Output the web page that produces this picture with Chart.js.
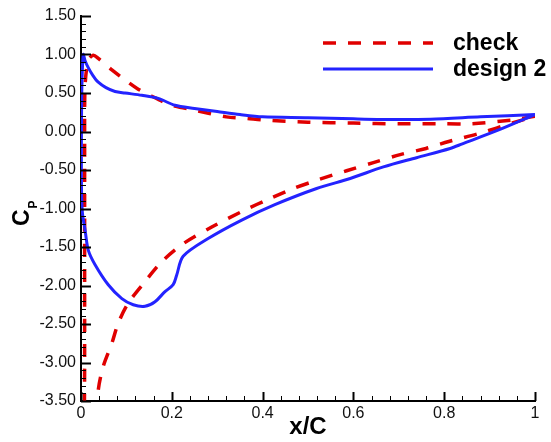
<!DOCTYPE html>
<html>
<head>
<meta charset="utf-8">
<script src="https://cdn.jsdelivr.net/npm/chart.js@4.4.0/dist/chart.umd.min.js"></script>
<style>
  html, body { margin: 0; padding: 0; background: #fff; }
  #cp-chart { display: block; }
</style>
</head>
<body>
<canvas id="cp-chart" width="551" height="442"></canvas>
<script>
// Cp distributions.
// Each loop runs TE -> pressure side -> LE -> suction side -> TE.
const checkX = [1.0, 0.95, 0.86, 0.8, 0.7, 0.6, 0.5, 0.4, 0.365, 0.32, 0.247, 0.207, 0.183, 0.152, 0.126, 0.097, 0.068, 0.038, 0.027, 0.016, 0.012, 0.009, 0.008, 0.008, 0.008, 0.008, 0.008, 0.008, 0.015, 0.03, 0.038, 0.049, 0.068, 0.082, 0.104, 0.141, 0.178, 0.222, 0.288, 0.354, 0.42, 0.468, 0.526, 0.585, 0.644, 0.703, 0.76, 0.81, 0.88, 0.95, 1.0];
const checkY = [0.2, 0.15, 0.1, 0.1, 0.1, 0.11, 0.12, 0.15, 0.17, 0.19, 0.28, 0.33, 0.38, 0.47, 0.55, 0.67, 0.8, 0.95, 0.99, 0.93, 0.8, 0.6, 0.3, 0.0, -1.0, -2.0, -3.0, -4.0, -5.0, -4.0, -3.36, -3.05, -2.75, -2.49, -2.23, -1.95, -1.69, -1.47, -1.24, -1.04, -0.86, -0.74, -0.62, -0.51, -0.405, -0.3, -0.22, -0.13, -0.02, 0.11, 0.2];

const design2X = [1.0, 0.88, 0.77, 0.7, 0.6, 0.5, 0.4, 0.35, 0.3, 0.25, 0.207, 0.17, 0.134, 0.097, 0.075, 0.055, 0.038, 0.026, 0.016, 0.009, 0.005, 0.002, 0.001, 0.001, 0.003, 0.009, 0.016, 0.031, 0.06, 0.09, 0.115, 0.141, 0.163, 0.185, 0.203, 0.211, 0.225, 0.28, 0.354, 0.427, 0.519, 0.593, 0.666, 0.739, 0.813, 0.84, 0.92, 1.0];
const design2Y = [0.22, 0.19, 0.16, 0.155, 0.165, 0.18, 0.19, 0.22, 0.26, 0.3, 0.34, 0.43, 0.47, 0.5, 0.52, 0.57, 0.64, 0.73, 0.83, 0.92, 1.0, 0.6, 0.0, -0.7, -1.05, -1.28, -1.54, -1.73, -1.99, -2.17, -2.25, -2.27, -2.21, -2.08, -1.99, -1.86, -1.62, -1.39, -1.15, -0.95, -0.74, -0.61, -0.46, -0.34, -0.22, -0.16, 0.02, 0.22];

const xTicks = [0, 0.2, 0.4, 0.6, 0.8, 1];
const yTicks = [1.5, 1.0, 0.5, 0.0, -0.5, -1.0, -1.5, -2.0, -2.5, -3.0, -3.5];

const toPoints = (xs, ys) => xs.map((x, i) => ({ x: x, y: ys[i] }));

// Tecplot style ticks: drawn inward, with minor ticks in between
const inwardTicks = {
    id: 'inwardTicks',
    afterDraw(chart) {
        const ctx = chart.ctx;
        const area = chart.chartArea;
        const xs = chart.scales.x;
        const ys = chart.scales.y;
        ctx.save();
        ctx.strokeStyle = '#000';
        for (let i = -35; i <= 15; i++) {
            const major = i % 5 === 0;
            const py = Math.round(ys.getPixelForValue(i / 10)) + 0.5;
            ctx.lineWidth = major ? 2 : 1;
            ctx.beginPath();
            ctx.moveTo(area.left, py);
            ctx.lineTo(area.left + (major ? 10 : 5), py);
            ctx.stroke();
        }
        for (let i = 0; i <= 25; i++) {
            const major = i % 5 === 0;
            const px = Math.round(xs.getPixelForValue(i * 0.04)) + 0.5;
            ctx.lineWidth = major ? 2 : 1;
            ctx.beginPath();
            ctx.moveTo(px, area.bottom);
            ctx.lineTo(px, area.bottom - (major ? 9 : 5));
            ctx.stroke();
        }
        ctx.restore();
    }
};

// Y title C_P (rotated, with subscript) and the legend without a frame
const labelsPlugin = {
    id: 'labelsPlugin',
    afterDraw(chart) {
        const ctx = chart.ctx;
        ctx.save();
        ctx.fillStyle = '#000';
        ctx.translate(29, 226);
        ctx.rotate(-Math.PI / 2);
        ctx.textAlign = 'left';
        ctx.textBaseline = 'alphabetic';
        ctx.font = "bold 23px 'Liberation Sans', Arial, sans-serif";
        ctx.fillText('C', 0, 0);
        const w = ctx.measureText('C').width;
        ctx.font = "bold 12px 'Liberation Sans', Arial, sans-serif";
        ctx.fillText('P', w + 1, 8);
        ctx.restore();

        // legend
        const rows = [43, 69];
        chart.data.datasets.forEach((ds, i) => {
            const y = rows[i];
            ctx.save();
            ctx.strokeStyle = ds.borderColor;
            ctx.lineWidth = ds.borderWidth;
            ctx.setLineDash(ds.borderDash || []);
            ctx.beginPath();
            ctx.moveTo(323, y);
            ctx.lineTo(433, y);
            ctx.stroke();
            ctx.setLineDash([]);
            ctx.fillStyle = '#000';
            ctx.font = "bold 23px 'Liberation Sans', Arial, sans-serif";
            ctx.textAlign = 'left';
            ctx.textBaseline = 'alphabetic';
            ctx.fillText(ds.label, 453, y + 7);
            ctx.restore();
        });
    }
};

const tickFont = { family: "'Liberation Sans', Arial, sans-serif", size: 16 };

new Chart(document.getElementById('cp-chart'), {
    type: 'scatter',
    data: {
        datasets: [
            {
                label: 'check',
                data: toPoints(checkX, checkY),
                showLine: true,
                borderColor: '#e00000',
                borderWidth: 3.5,
                borderDash: [13, 12],
                pointRadius: 0,
                tension: 0.3,
                order: 2
            },
            {
                label: 'design 2',
                data: toPoints(design2X, design2Y),
                showLine: true,
                borderColor: '#2323ff',
                borderWidth: 3,
                pointRadius: 0,
                tension: 0.3,
                order: 1
            }
        ]
    },
    options: {
        responsive: false,
        animation: false,
        layout: { padding: { top: 16, right: 16, left: 0, bottom: 0 } },
        plugins: {
            legend: { display: false },
            tooltip: { enabled: false }
        },
        scales: {
            x: {
                type: 'linear',
                min: 0,
                max: 1,
                afterBuildTicks: scale => { scale.ticks = xTicks.map(v => ({ value: v })); },
                afterFit: scale => { scale.height = 41; },
                grid: { display: false, drawTicks: false },
                border: { display: true, color: '#000', width: 2 },
                ticks: {
                    padding: 3,
                    color: '#111',
                    font: tickFont,
                    maxRotation: 0,
                    callback: v => (v === 0 || v === 1) ? String(v) : v.toFixed(1)
                },
                title: {
                    display: true,
                    text: 'x/C',
                    color: '#000',
                    font: { family: "'Liberation Sans', Arial, sans-serif", size: 24, weight: 'bold' },
                    padding: { top: 0, bottom: 0 }
                }
            },
            y: {
                type: 'linear',
                min: -3.5,
                max: 1.5,
                afterBuildTicks: scale => { scale.ticks = yTicks.map(v => ({ value: v })); },
                afterFit: scale => { scale.width = 81; },
                grid: { display: false, drawTicks: false },
                border: { display: true, color: '#000', width: 2 },
                ticks: {
                    padding: 5,
                    color: '#111',
                    font: tickFont,
                    callback: v => v.toFixed(2)
                }
            }
        }
    },
    plugins: [inwardTicks, labelsPlugin]
});
</script>
</body>
</html>
